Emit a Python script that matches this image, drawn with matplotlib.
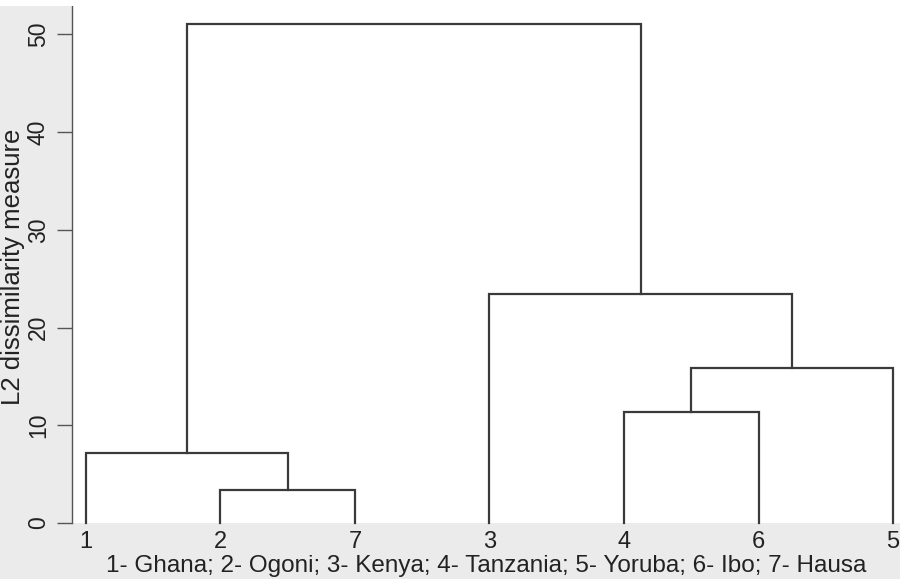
import matplotlib.pyplot as plt
from matplotlib.patches import Rectangle

plt.rcParams['font.family'] = ['Liberation Sans', 'DejaVu Sans']

# leaf order along the x axis
leaf_labels = ['1', '2', '7', '3', '4', '6', '5']
# merges: (left node, right node, height); nodes 'a'.. are clusters made earlier
merges = [
    ('2', '7', 3.4),
    ('1', 'a', 7.2),
    ('4', '6', 11.4),
    ('c', '5', 15.9),
    ('3', 'd', 23.4),
    ('b', 'e', 51.1),
]
y_ticks = [0, 10, 20, 30, 40, 50]
note = '1- Ghana; 2- Ogoni; 3- Kenya; 4- Tanzania; 5- Yoruba; 6- Ibo; 7- Hausa'

line_col = '#3a3a3a'
text_col = '#222222'

fig = plt.figure(figsize=(9, 5.79), dpi=100, facecolor='#ebebeb')
fig.patches.append(Rectangle((0, 1 - 6 / 579), 1, 6 / 579, transform=fig.transFigure,
                             facecolor='white', edgecolor='none', zorder=0))
ax = fig.add_axes([72 / 900, 1 - 523 / 579, 828 / 900, 517 / 579])
ax.set_facecolor('white')

pos = {lab: i for i, lab in enumerate(leaf_labels)}
hgt = {lab: 0.0 for lab in leaf_labels}
names = 'abcdef'
for k, (l, r, h) in enumerate(merges):
    xl, xr = pos[l], pos[r]
    ax.plot([xl, xl, xr, xr], [hgt[l], h, h, hgt[r]], color=line_col, lw=1.6,
            solid_joinstyle='miter', clip_on=False)
    pos[names[k]] = (xl + xr) / 2
    hgt[names[k]] = h

ax.set_xlim(-0.104, 6.052)
ax.set_ylim(0, 52.9)
for s in ['top', 'right', 'bottom']:
    ax.spines[s].set_visible(False)
ax.spines['left'].set_color('#555555')
ax.spines['left'].set_linewidth(1.0)

ax.set_xticks(range(len(leaf_labels)))
ax.set_xticklabels(leaf_labels)
ax.tick_params(axis='x', length=0, pad=6, labelsize=17, labelcolor=text_col)
ax.set_yticks(y_ticks)
ax.tick_params(axis='y', length=11, width=1.0, color='#555555', pad=5,
               labelsize=16.5, labelcolor=text_col)
for t in ax.get_yticklabels():
    t.set_rotation(90)
    t.set_va('center')

ax.set_ylabel('L2 dissimilarity measure', fontsize=18.5, color=text_col)
ax.yaxis.set_label_coords(-47 / 828, (523 - 267) / 517)
fig.text(486 / 900, 1 - 566 / 579, note, ha='center', va='center',
         fontsize=17.5, color=text_col)

fig.savefig('out.png', dpi=100, facecolor=fig.get_facecolor())
